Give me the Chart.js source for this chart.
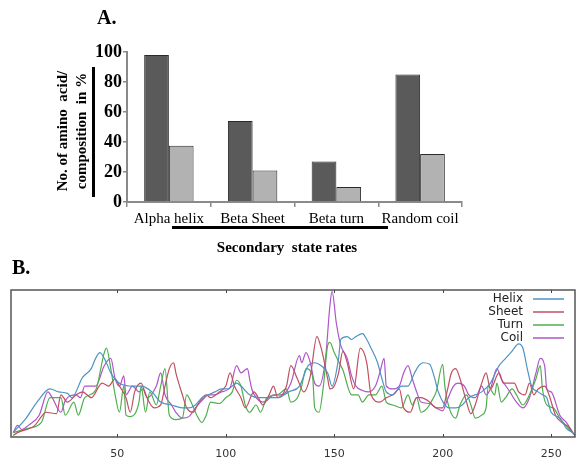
<!DOCTYPE html>
<html>
<head>
<meta charset="utf-8">
<script src="https://cdn.jsdelivr.net/npm/chart.js@4.4.1/dist/chart.umd.min.js"></script>
<style>
  html,body{margin:0;padding:0;background:#fff;}
  #wrap{position:relative;width:577px;height:458px;overflow:hidden;background:#fff;}
  canvas{position:absolute;}
  .t{position:absolute;font-family:"Liberation Serif","Times New Roman",serif;color:#000;white-space:pre;}
</style>
</head>
<body>
<div id="wrap">
  <canvas id="cA" width="577" height="260" style="left:0;top:0;width:577px;height:260px"></canvas>
  <canvas id="cB" width="577" height="198" style="left:0;top:260px;width:577px;height:198px"></canvas>
  <div class="t" style="left:97px;top:6px;font-size:20px;font-weight:bold;">A.</div>
  <div class="t" style="left:12px;top:256px;font-size:20px;font-weight:bold;">B.</div>
  <div class="t" id="ytitle" style="left:72px;top:131px;font-size:15px;font-weight:bold;line-height:19px;text-align:center;transform:translate(-50%,-50%) rotate(-90deg);">No. of amino  acid/
composition  in %</div>
  <div style="position:absolute;left:92px;top:67px;width:3px;height:130px;background:#000;"></div>
  <div style="position:absolute;left:172px;top:226px;width:216px;height:3px;background:#000;"></div>
  <div class="t" style="left:287px;top:247px;font-size:15px;font-weight:bold;transform:translate(-50%,-50%);">Secondary  state rates</div>
</div>
<script>
// ---------- Panel A data ----------
const categories = ['Alpha helix', 'Beta Sheet', 'Beta turn', 'Random coil'];
const aminoCount = [98, 54, 27, 85];
const compositionPct = [37.5, 21, 10, 32];
const yTicksA = [0, 20, 40, 60, 80, 100];

// ---------- Panel B data: [position, value] ----------
const seriesNames = ['Helix', 'Sheet', 'Turn', 'Coil'];
const xTicksB = [50, 100, 150, 200, 250];
const helix = [[2,0.03],[8,0.13],[13,0.24],[19,0.33],[23,0.31],[27,0.30],[29,0.27],[34,0.41],[38,0.47],[40,0.54],[42,0.58],[45,0.51],[47,0.44],[51,0.37],[57,0.35],[61,0.35],[66,0.31],[70,0.24],[75,0.22],[80,0.20],[83,0.20],[86,0.22],[89,0.27],[92,0.29],[95,0.31],[98,0.33],[101,0.33],[105,0.37],[107,0.35],[111,0.29],[115,0.27],[120,0.27],[124,0.27],[129,0.31],[134,0.35],[138,0.49],[141,0.51],[144,0.49],[147,0.44],[149,0.35],[152,0.54],[153,0.67],[156,0.69],[158,0.67],[160,0.69],[163,0.71],[165,0.67],[167,0.61],[170,0.51],[172,0.40],[174,0.31],[177,0.29],[181,0.35],[184,0.35],[187,0.44],[189,0.49],[191,0.51],[194,0.50],[196,0.42],[198,0.31],[201,0.22],[203,0.20],[206,0.20],[209,0.22],[212,0.27],[215,0.29],[218,0.31],[222,0.37],[226,0.49],[229,0.54],[232,0.59],[235,0.64],[237,0.61],[239,0.47],[241,0.35],[244,0.31],[246,0.29],[248,0.27],[250,0.17],[254,0.13],[257,0.06],[260,0.03]];
const sheet = [[2,0.01],[4,0.03],[12,0.08],[15,0.14],[17,0.17],[22,0.16],[24,0.29],[27,0.24],[31,0.29],[34,0.31],[38,0.27],[43,0.37],[46,0.35],[49,0.40],[51,0.35],[54,0.27],[56,0.17],[58,0.31],[61,0.37],[63,0.29],[67,0.20],[70,0.22],[72,0.35],[74,0.47],[76,0.51],[77,0.44],[80,0.29],[82,0.20],[85,0.17],[87,0.22],[91,0.29],[93,0.27],[97,0.31],[100,0.35],[102,0.44],[104,0.35],[107,0.27],[109,0.20],[113,0.31],[115,0.27],[117,0.22],[120,0.29],[122,0.35],[124,0.27],[128,0.35],[130,0.49],[133,0.40],[136,0.31],[139,0.42],[142,0.69],[144,0.61],[147,0.40],[148,0.33],[150,0.35],[152,0.44],[154,0.59],[156,0.51],[159,0.33],[162,0.61],[165,0.51],[167,0.29],[171,0.24],[174,0.27],[177,0.29],[180,0.33],[182,0.20],[185,0.17],[188,0.27],[190,0.27],[194,0.24],[197,0.20],[200,0.20],[202,0.31],[204,0.44],[206,0.47],[208,0.40],[211,0.24],[213,0.16],[215,0.22],[218,0.37],[220,0.44],[222,0.33],[226,0.44],[228,0.37],[233,0.37],[235,0.31],[238,0.29],[240,0.37],[242,0.29],[244,0.33],[247,0.35],[249,0.29],[252,0.15],[255,0.10],[258,0.07],[261,0.01]];
const turn = [[2,0.03],[9,0.06],[15,0.10],[19,0.27],[24,0.27],[26,0.15],[30,0.24],[32,0.15],[35,0.27],[40,0.32],[44,0.58],[45,0.61],[47,0.47],[49,0.29],[51,0.17],[53,0.35],[54,0.15],[56,0.14],[60,0.24],[61,0.35],[63,0.17],[65,0.31],[68,0.22],[70,0.35],[72,0.47],[74,0.15],[77,0.12],[80,0.13],[82,0.29],[84,0.24],[87,0.14],[89,0.10],[91,0.15],[93,0.24],[97,0.23],[100,0.27],[103,0.31],[105,0.39],[107,0.35],[109,0.22],[111,0.17],[114,0.22],[116,0.17],[119,0.27],[124,0.29],[128,0.33],[130,0.24],[133,0.27],[135,0.35],[137,0.47],[140,0.42],[141,0.20],[143,0.17],[145,0.35],[147,0.63],[148,0.65],[150,0.58],[152,0.52],[154,0.46],[158,0.29],[161,0.29],[163,0.24],[166,0.29],[169,0.29],[172,0.35],[174,0.24],[177,0.22],[181,0.20],[184,0.29],[186,0.22],[188,0.27],[190,0.17],[193,0.20],[195,0.25],[197,0.31],[200,0.50],[201,0.35],[203,0.20],[206,0.13],[208,0.22],[211,0.29],[213,0.22],[215,0.13],[218,0.15],[220,0.20],[221,0.35],[224,0.29],[225,0.37],[227,0.24],[229,0.27],[232,0.33],[234,0.29],[237,0.22],[240,0.29],[243,0.40],[245,0.49],[246,0.33],[248,0.22],[251,0.20],[254,0.13],[258,0.06],[261,0.01]];
const coil = [[2,0.03],[4,0.08],[6,0.05],[9,0.08],[14,0.15],[18,0.31],[20,0.27],[24,0.17],[26,0.25],[31,0.29],[33,0.27],[35,0.35],[40,0.35],[44,0.49],[47,0.54],[49,0.40],[51,0.35],[53,0.42],[54,0.29],[57,0.35],[60,0.31],[62,0.33],[64,0.27],[68,0.35],[70,0.44],[72,0.29],[75,0.22],[77,0.17],[80,0.13],[83,0.14],[86,0.20],[89,0.25],[92,0.29],[95,0.29],[98,0.31],[102,0.34],[105,0.49],[107,0.44],[110,0.47],[111,0.40],[112,0.33],[114,0.27],[117,0.24],[119,0.25],[122,0.29],[126,0.29],[130,0.37],[134,0.56],[135,0.51],[137,0.58],[139,0.51],[141,0.37],[143,0.35],[146,0.54],[148,0.90],[149,1.00],[151,0.78],[153,0.63],[156,0.54],[158,0.42],[160,0.35],[163,0.32],[166,0.31],[169,0.35],[171,0.44],[173,0.54],[174,0.35],[177,0.33],[180,0.35],[182,0.44],[184,0.49],[186,0.40],[188,0.31],[190,0.24],[194,0.23],[197,0.20],[200,0.18],[202,0.25],[205,0.35],[207,0.37],[210,0.35],[212,0.29],[215,0.27],[218,0.35],[220,0.29],[222,0.33],[225,0.47],[227,0.40],[231,0.31],[234,0.24],[237,0.20],[240,0.27],[243,0.44],[245,0.54],[247,0.49],[248,0.33],[250,0.31],[254,0.15],[257,0.10],[260,0.03]];

const seriesData = [helix, sheet, turn, coil];
const seriesColors = ['#4f93c4', '#bf5060', '#4fae4f', '#ad55c9'];

// ---------- Panel A chart ----------
new Chart(document.getElementById('cA'), {
  type: 'bar',
  data: {
    labels: categories,
    datasets: [
      { label: 'No. of amino acid', data: aminoCount, backgroundColor: '#5a5a5a', borderColor: '#2a2a2a', borderWidth: 1 },
      { label: 'Composition in %', data: compositionPct, backgroundColor: '#b2b2b2', borderColor: '#2a2a2a', borderWidth: 1 }
    ]
  },
  options: {
    responsive: false, animation: false, devicePixelRatio: 1,
    categoryPercentage: 0.59, barPercentage: 1.0,
    layout: { padding: { left: 0, top: 52, right: 115, bottom: 0 } },
    plugins: { legend: { display: false }, tooltip: { enabled: false } },
    scales: {
      x: {
        afterFit: s => { s.height = 58; },
        grid: { offset: true, drawOnChartArea: false, drawTicks: true, tickLength: 5, color: '#8a8a8a', lineWidth: 1.5 },
        border: { color: '#8a8a8a', width: 2 },
        ticks: { color: '#000', padding: 3, font: { family: '"Liberation Serif", serif', size: 15 } }
      },
      y: {
        min: 0, max: 100,
        afterFit: s => { s.width = 127; },
        afterBuildTicks: s => { s.ticks = yTicksA.map(v => ({ value: v })); },
        grid: { drawOnChartArea: false, drawTicks: true, tickLength: 4, color: '#8a8a8a', lineWidth: 1.5 },
        border: { color: '#8a8a8a', width: 2 },
        ticks: { color: '#000', padding: 1, font: { family: '"Liberation Serif", serif', size: 18, weight: 'bold' } }
      }
    }
  }
});

// ---------- Panel B chart ----------
const frameB = {
  id: 'frameB',
  afterDraw(chart) {
    const { ctx, chartArea: a, scales } = chart;
    ctx.save();
    ctx.strokeStyle = '#555';
    ctx.lineWidth = 1.5;
    ctx.strokeRect(a.left, a.top, a.right - a.left, a.bottom - a.top);
    ctx.lineWidth = 1;
    ctx.strokeStyle = '#444';
    xTicksB.forEach(v => {
      const px = Math.round(scales.x.getPixelForValue(v)) + 0.5;
      ctx.beginPath();
      ctx.moveTo(px, a.top); ctx.lineTo(px, a.top + 3);
      ctx.moveTo(px, a.bottom); ctx.lineTo(px, a.bottom - 3);
      ctx.stroke();
    });
    ctx.font = '12px "DejaVu Sans", sans-serif';
    ctx.textAlign = 'right';
    ctx.textBaseline = 'middle';
    seriesNames.forEach((n, i) => {
      const y = a.top + 9 + i * 13;
      ctx.fillStyle = '#222';
      ctx.fillText(n, a.right - 52, y);
      ctx.strokeStyle = seriesColors[i];
      ctx.lineWidth = 1.5;
      ctx.beginPath();
      ctx.moveTo(a.right - 42, y); ctx.lineTo(a.right - 11, y);
      ctx.stroke();
    });
    ctx.restore();
  }
};

new Chart(document.getElementById('cB'), {
  type: 'line',
  data: {
    datasets: seriesData.map((d, i) => ({
      label: seriesNames[i],
      data: d.map(p => ({ x: p[0], y: p[1] })),
      borderColor: seriesColors[i],
      borderWidth: 1.2,
      pointRadius: 0,
      fill: false,
      cubicInterpolationMode: 'monotone'
    }))
  },
  options: {
    responsive: false, animation: false, devicePixelRatio: 1,
    layout: { padding: { left: 11, top: 30, right: 2, bottom: 0 } },
    plugins: { legend: { display: false }, tooltip: { enabled: false } },
    scales: {
      x: {
        type: 'linear', min: 1, max: 261,
        afterFit: s => { s.height = 21; },
        afterBuildTicks: s => { s.ticks = xTicksB.map(v => ({ value: v })); },
        grid: { display: false },
        border: { display: false },
        ticks: { color: '#333', padding: 3, font: { family: '"DejaVu Sans", sans-serif', size: 11 } }
      },
      y: { display: false, min: 0, max: 1.01 }
    }
  },
  plugins: [frameB]
});
</script>
</body>
</html>
